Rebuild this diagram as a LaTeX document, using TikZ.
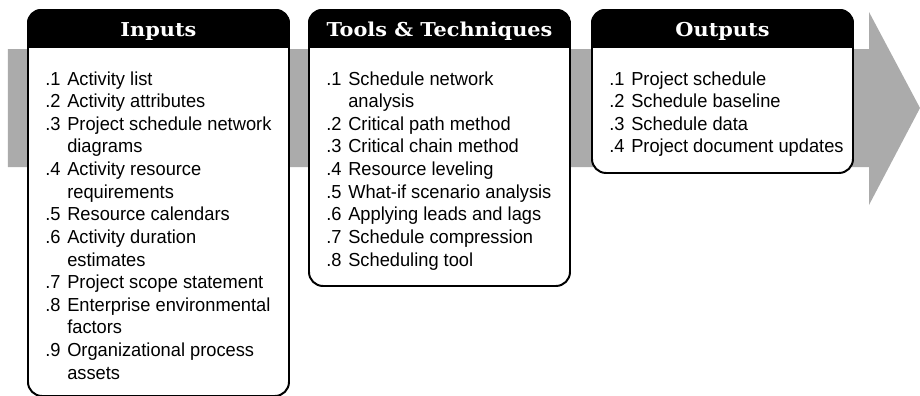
\documentclass[tikz,border=0pt]{standalone}
\usepackage{fontspec}
\setmainfont{Liberation Sans}[FakeStretch=0.97]
\newfontfamily\headfont{DejaVu Serif}[FakeStretch=1.09]
\usetikzlibrary{calc}
\definecolor{flowgray}{RGB}{171,171,171}
\newcommand{\itm}[2]{\makebox[0.55cm][l]{#1}#2}

\begin{document}
\begin{tikzpicture}[
panel/.style={draw,fill=white,line width=1.4pt,rounded corners=0.35cm,minimum width=6.525cm,anchor=north west,inner sep=0pt},
title/.style={font=\headfont\bfseries\fontsize{13.6}{15}\selectfont,text=white,anchor=base,inner sep=0pt},
list/.style={font=\fontsize{13.4}{16.1}\selectfont,anchor=base west,inner sep=0pt} ]

\useasboundingbox (0,0) rectangle (23,-9.9);

\fill[flowgray] (0.2,-1.225) -- (21.725,-1.225) -- (21.725,-0.3) -- (23,-2.7) -- (21.725,-5.125) -- (21.725,-4.175) -- (0.2,-4.175) -- cycle;

\node[panel,minimum height=9.65cm](inputs) at (0.675,-0.225) {};

\node[panel,minimum height=6.9cm](tools) at (7.7,-0.225) {};

\node[panel,minimum height=4.075cm](outputs) at (14.775,-0.225) {};

\foreach \pnl in {inputs,tools,outputs}{
\begin{scope}
\clip[rounded corners=0.35cm] (\pnl.north west) rectangle (\pnl.south east);
\fill (\pnl.north west) rectangle ($(\pnl.north east)+(0,-0.975)$);
\end{scope}
}

\node[title](inputsT) at ($(inputs.north)+(0,-0.675)$) {Inputs};

\node[title](toolsT) at ($(tools.north)+(0,-0.675)$) {Tools \& Techniques};

\node[title](outputsT) at ($(outputs.north)+(0,-0.675)$) {Outputs};

\node[list](inputsL) at ($(inputs.north west)+(0.45,-1.9)$) {\begin{tabular}[t]{@{}l@{}}
\itm{.1}{Activity list}\\
\itm{.2}{Activity attributes}\\
\itm{.3}{Project schedule network}\\
\itm{}{diagrams}\\
\itm{.4}{Activity resource}\\
\itm{}{requirements}\\
\itm{.5}{Resource calendars}\\
\itm{.6}{Activity duration}\\
\itm{}{estimates}\\
\itm{.7}{Project scope statement}\\
\itm{.8}{Enterprise environmental}\\
\itm{}{factors}\\
\itm{.9}{Organizational process}\\
\itm{}{assets}
\end{tabular}};

\node[list](toolsL) at ($(tools.north west)+(0.45,-1.9)$) {\begin{tabular}[t]{@{}l@{}}
\itm{.1}{Schedule network}\\
\itm{}{analysis}\\
\itm{.2}{Critical path method}\\
\itm{.3}{Critical chain method}\\
\itm{.4}{Resource leveling}\\
\itm{.5}{What-if scenario analysis}\\
\itm{.6}{Applying leads and lags}\\
\itm{.7}{Schedule compression}\\
\itm{.8}{Scheduling tool}
\end{tabular}};

\node[list](outputsL) at ($(outputs.north west)+(0.45,-1.9)$) {\begin{tabular}[t]{@{}l@{}}
\itm{.1}{Project schedule}\\
\itm{.2}{Schedule baseline}\\
\itm{.3}{Schedule data}\\
\itm{.4}{Project document updates}
\end{tabular}};
\end{tikzpicture}
\end{document}
